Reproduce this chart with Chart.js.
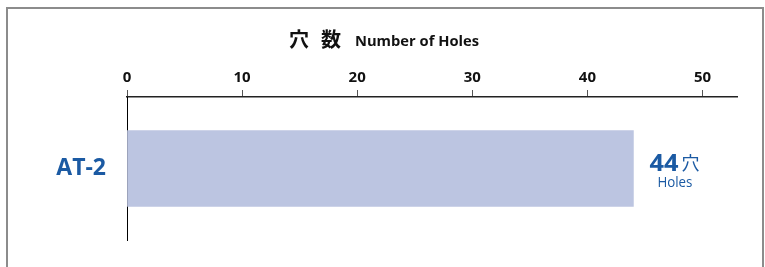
<!DOCTYPE html>
<html>
<head>
<meta charset="utf-8">
<script src="https://cdn.jsdelivr.net/npm/chart.js@4"></script>
<style>
    html, body { margin: 0; padding: 0; background: #fff; overflow: hidden; }
    #frame {
        position: absolute; left: 6px; top: 7px; width: 754px; height: 300px;
        border: 2px solid #8c8c8c; box-sizing: content-box;
    }
    #chart { position: absolute; left: 0; top: 0; }
</style>
</head>
<body>
<div id="frame"></div>
<canvas id="chart" width="765" height="267"></canvas>
<script>
// chart data
const categories = ["AT-2"];
const holeCounts = [44];
const axisMin = 0;
const axisMax = 53;
const axisStep = 10;

const titleJa = ["穴", "数"];
const titleEn = "Number of Holes";
const unitJa = "穴";
const unitEn = "Holes";

const blue = "#1b5aa3";
const barColor = "#bcc5e1";

// draw text squeezed/stretched to a given width (condensed look)
function fitText(ctx, text, x, y, width) {
    const w = ctx.measureText(text).width;
    ctx.save();
    ctx.translate(x, y);
    ctx.scale(width / w, 1);
    ctx.fillText(text, 0, 0);
    ctx.restore();
}

// title above the axis
const titlePlugin = {
    id: "titleText",
    afterDraw(chart) {
        const ctx = chart.ctx;
        ctx.save();
        ctx.fillStyle = "#111";
        ctx.textBaseline = "alphabetic";
        ctx.textAlign = "left";
        ctx.font = "bold 20px 'Noto Sans CJK JP'";
        ctx.fillText(titleJa[0], 289, 47);
        ctx.fillText(titleJa[1], 321, 47);
        ctx.font = "bold 15px 'Open Sans'";
        fitText(ctx, titleEn, 355, 46, 124);
        ctx.restore();
    }
};

// value label at the end of each bar
const valuePlugin = {
    id: "valueText",
    afterDatasetsDraw(chart) {
        const ctx = chart.ctx;
        const meta = chart.getDatasetMeta(0);
        meta.data.forEach((bar, i) => {
            const x = bar.x + 16;
            const y = bar.y;
            ctx.save();
            ctx.fillStyle = blue;
            ctx.textAlign = "left";
            ctx.textBaseline = "alphabetic";
            ctx.font = "bold 24px 'Open Sans'";
            fitText(ctx, String(holeCounts[i]), x, y + 2, 29);
            ctx.font = "18px 'Noto Sans CJK JP'";
            ctx.fillText(unitJa, x + 32, y + 1);
            ctx.font = "14px 'Open Sans'";
            fitText(ctx, unitEn, x + 8, y + 18, 35);
            ctx.restore();
        });
    }
};

new Chart(document.getElementById("chart"), {
    type: "bar",
    data: {
        labels: categories,
        datasets: [{
            data: holeCounts,
            backgroundColor: barColor,
            borderWidth: 0,
            barThickness: 76
        }]
    },
    options: {
        indexAxis: "y",
        responsive: false,
        animation: false,
        layout: { padding: { top: 57, right: 28, bottom: 27, left: 0 } },
        plugins: {
            legend: { display: false },
            tooltip: { enabled: false }
        },
        scales: {
            x: {
                position: "top",
                min: axisMin,
                max: axisMax,
                afterFit(scale) { scale.height = 40; },
                ticks: {
                    stepSize: axisStep,
                    includeBounds: false,
                    color: "#111",
                    padding: 3,
                    font: { family: "Open Sans", size: 15, weight: "bold" }
                },
                grid: {
                    drawOnChartArea: false,
                    drawTicks: true,
                    tickLength: 7,
                    color: "#555",
                    lineWidth: 1
                },
                border: { display: true, color: "#222", width: 1.5 }
            },
            y: {
                afterFit(scale) {
                    scale.width = 127;
                    // stop the big label from pushing the chart area up
                    scale.paddingTop = 0;
                    scale.paddingBottom = 0;
                },
                ticks: {
                    color: blue,
                    padding: 21,
                    font: { family: "Open Sans", size: 23, weight: "bold" }
                },
                grid: {
                    drawOnChartArea: false,
                    drawTicks: false,
                    color: "rgba(0,0,0,0)"
                },
                border: { display: true, color: "#000", width: 1 }
            }
        }
    },
    plugins: [titlePlugin, valuePlugin]
});
</script>
</body>
</html>
